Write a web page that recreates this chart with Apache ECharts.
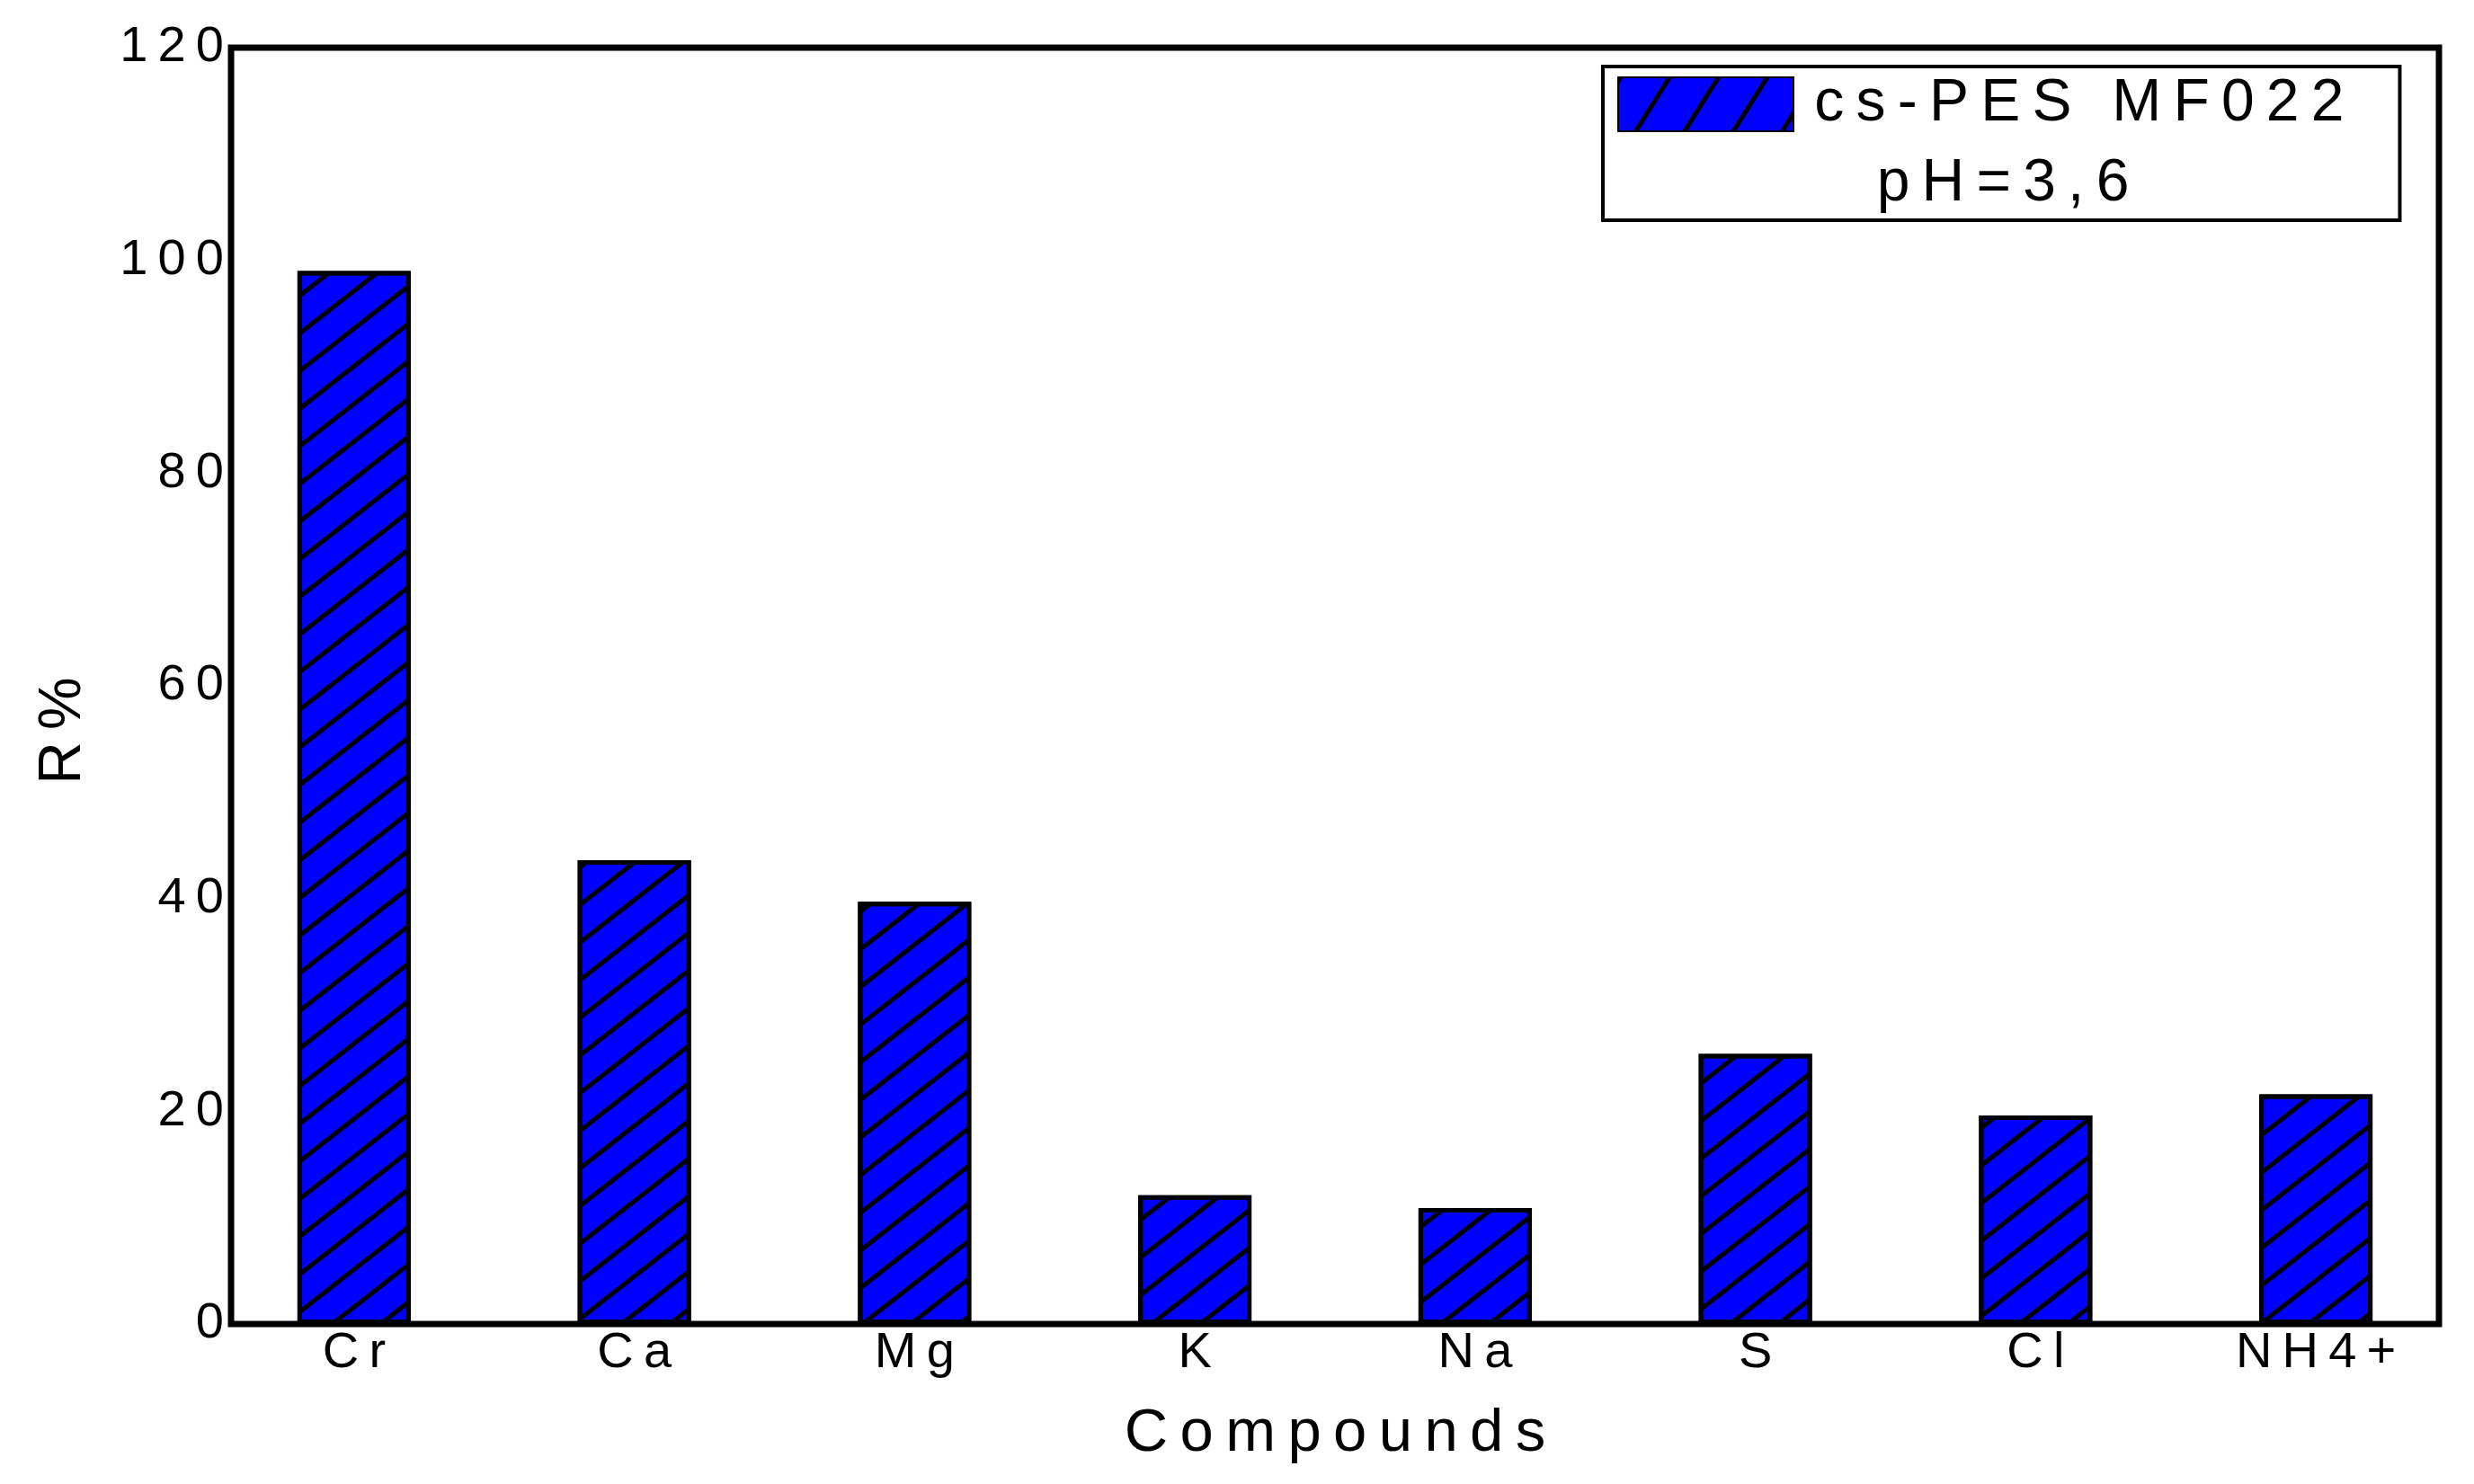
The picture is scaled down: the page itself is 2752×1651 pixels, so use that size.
<!DOCTYPE html>
<html>
<head>
<meta charset="utf-8">
<title>R % by compound</title>
<script src="https://cdn.jsdelivr.net/npm/echarts@6/dist/echarts.min.js"></script>
<style>
  html, body { margin: 0; padding: 0; background: #fff; }
  #chart { width: 2752px; height: 1651px; }
</style>
</head>
<body>
<div id="chart"></div>
<script>
// data
var compounds = ["Cr", "Ca", "Mg", "K", "Na", "S", "Cl", "NH4+"];
var rejection = [99.0, 43.6, 39.7, 12.1, 10.9, 25.4, 19.6, 21.6];
var seriesName = "cs-PES MF022";
var phNote = "pH=3,6";

var FONT = "'Liberation Sans', Arial, sans-serif";
var THIN = "\u2009";

// the original uses wide letter spacing
function spaced(s) {
  return s.split("").join(THIN);
}

var chart = echarts.init(document.getElementById("chart"));

var option = {
  backgroundColor: "#fff",
  animation: false,
  textStyle: { fontFamily: FONT, color: "#000" },
  grid: [
    // bars + labels
    { left: 238, right: 20, top: 53, bottom: 178, containLabel: false },
    // frame
    {
      left: 257, right: 39, top: 53, bottom: 178,
      show: true, borderColor: "#000", borderWidth: 7,
      backgroundColor: "transparent"
    }
  ],
  legend: {
    data: [seriesName],
    left: 1783,
    top: 74,
    orient: "vertical",
    icon: "rect",
    itemWidth: 195,
    itemHeight: 60,
    padding: [9, 62, 96, 16],
    borderColor: "#000",
    borderWidth: 4,
    backgroundColor: "#fff",
    selectedMode: false,
    itemStyle: {
      decal: {
        symbol: "rect",
        color: "#000",
        dashArrayX: [1, 0],
        dashArrayY: [5, 41],
        rotation: -1.01
      }
    },
    formatter: function (name) { return " " + spaced(name); },
    textStyle: { fontSize: 66, fontFamily: FONT, color: "#000" }
  },
  xAxis: [
    {
      type: "category",
      gridIndex: 0,
      data: compounds,
      boundaryGap: true,
      axisLine: { show: false },
      axisTick: { show: false },
      axisLabel: {
        fontSize: 56, color: "#000", margin: 5, interval: 0,
        formatter: function (v) { return spaced(v); }
      },
      name: spaced("Compounds"),
      nameLocation: "middle",
      nameGap: 89,
      nameTextStyle: { fontSize: 67, color: "#000" }
    },
    { type: "value", gridIndex: 1, show: false }
  ],
  yAxis: [
    {
      type: "value",
      gridIndex: 0,
      min: 0,
      max: 120,
      interval: 20,
      offset: -19,
      axisLine: { show: false },
      axisTick: { show: false },
      splitLine: { show: false },
      axisLabel: {
        fontSize: 56, color: "#000", margin: 8,
        formatter: function (v) { return spaced(String(v)); }
      },
      name: "R" + THIN + "%",
      nameLocation: "middle",
      nameGap: 153,
      nameTextStyle: { fontSize: 66, color: "#000", padding: [0, 100, 0, 0] }
    },
    { type: "value", gridIndex: 1, show: false }
  ],
  graphic: [
    {
      type: "text",
      x: 2228,
      y: 205,
      z: 100,
      style: {
        text: spaced(phNote),
        fontSize: 66,
        fontFamily: FONT,
        fill: "#000",
        align: "center",
        verticalAlign: "middle"
      }
    }
  ],
  series: [
    {
      name: seriesName,
      type: "bar",
      xAxisIndex: 0,
      yAxisIndex: 0,
      data: rejection,
      barWidth: 126,
      itemStyle: {
        color: "#0000ff",
        borderColor: "#000",
        borderWidth: 5,
        decal: {
          symbol: "rect",
          color: "#000",
          dashArrayX: [1, 0],
          dashArrayY: [5, 28],
          rotation: -0.663
        }
      }
    }
  ]
};

chart.setOption(option);
</script>
</body>
</html>
